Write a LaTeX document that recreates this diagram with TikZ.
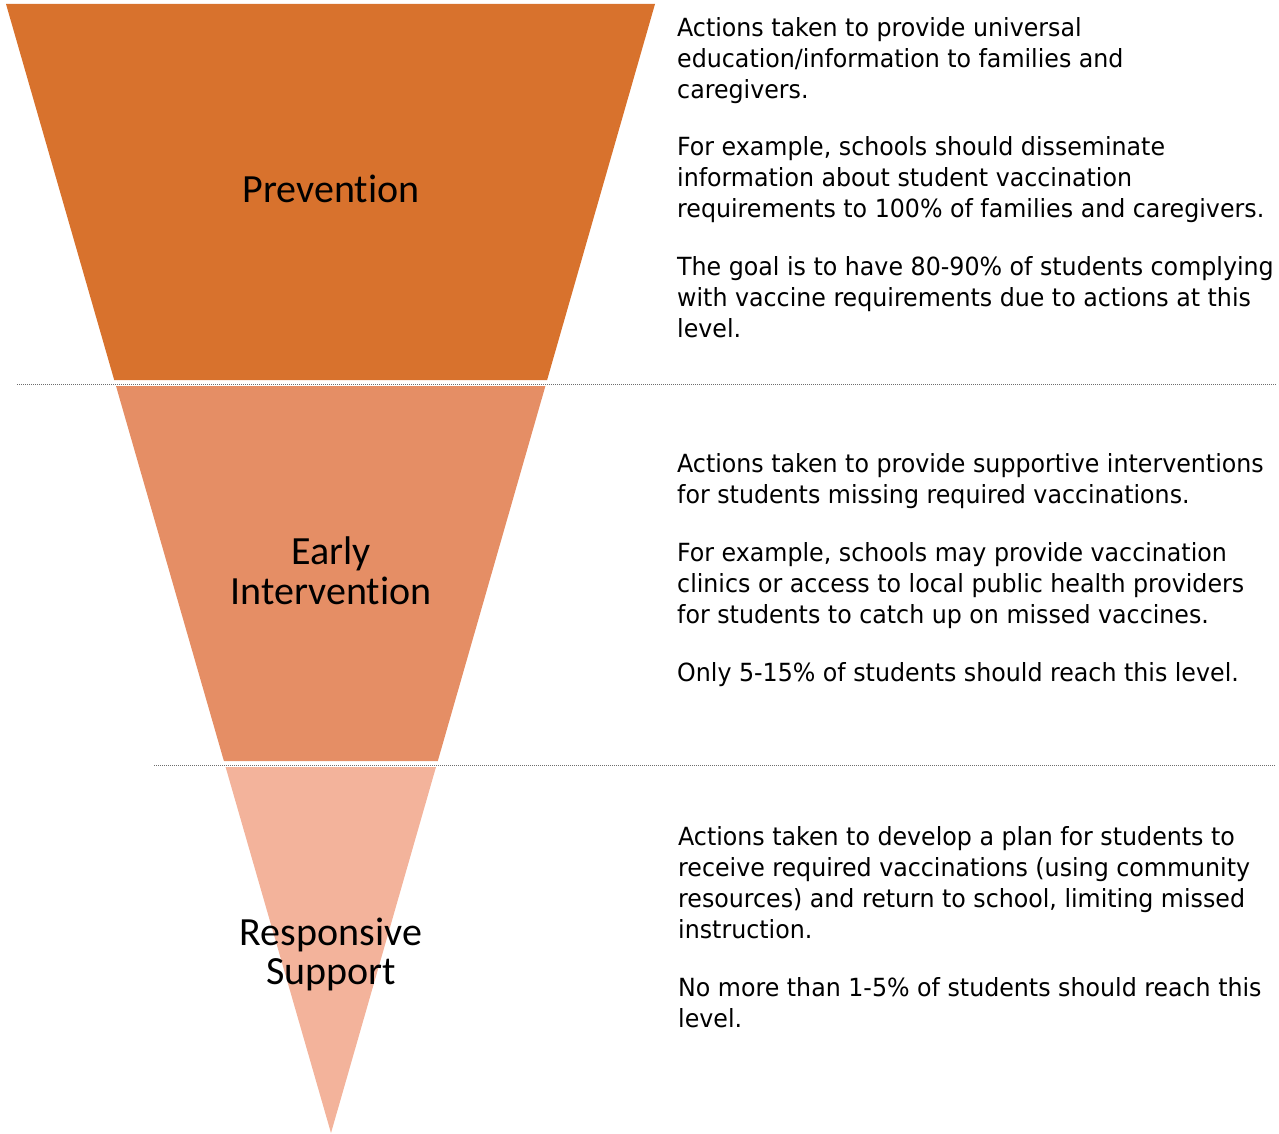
\documentclass[tikz,border=0pt]{standalone}
\usepackage{fontspec}
\newfontfamily\bodyfont[FakeStretch=1.055]{DejaVu Sans Condensed}
\newfontfamily\labelfont[Ligatures={NoCommon}]{Carlito}
\definecolor{bandA}{RGB}{216,114,45}
\definecolor{bandB}{RGB}{229,142,101}
\definecolor{bandC}{RGB}{243,179,155}
\definecolor{sepgray}{RGB}{110,110,110}
\begin{document}
\begin{tikzpicture}[x=1pt,y=-1pt,
  band/.style={draw=none},
  lvl/.style={inner sep=0pt,align=center,font=\labelfont\fontsize{40}{39}\selectfont},
  para/.style={inner sep=0pt,anchor=north west,align=left,font=\bodyfont\fontsize{25}{31}\selectfont},
  sep/.style={sepgray,line width=1pt,dash pattern=on 1pt off 1pt}]
\useasboundingbox (0,0) rectangle (1279,1134);
% bands
\fill[bandA] (6,4) -- (655,4) -- (547.1,380) -- (114.2,380) -- cycle;
\fill[bandB] (116,386) -- (545.4,386) -- (437.8,761) -- (223.9,761) -- cycle;
\fill[bandC] (225.6,767) -- (436,767) -- (331,1133) -- cycle;
% separators
\coordinate (s1a) at (17,384.5);
\coordinate (s1b) at (1276,384.5);
\coordinate (s2a) at (154,765.5);
\coordinate (s2b) at (1276,765.5);
\draw[sep] (s1a) -- (s1b);
\draw[sep] (s2a) -- (s2b);
% level labels
\node[lvl,anchor=base] (prev) at (331,202.3) {Prevention};
\node[lvl,anchor=north] (early) at (331,536.7) {\strut Early\\Intervention};
\node[lvl,anchor=north] (resp) at (331,917.7) {\strut Responsive\\Support};
% descriptions
\node[para] (p1a) at (677,15) {\strut Actions taken to provide universal\\education/information to families and\\caregivers.};
\node[para] (p1b) at (677,134) {\strut For example, schools should disseminate\\information about student vaccination\\requirements to 100\% of families and caregivers.};
\node[para] (p1c) at (677,254) {\strut The goal is to have 80-90\% of students complying\\with vaccine requirements due to actions at this\\level.};
\node[para] (p2a) at (677,451) {\strut Actions taken to provide supportive interventions\\for students missing required vaccinations.};
\node[para] (p2b) at (677,540) {\strut For example, schools may provide vaccination\\clinics or access to local public health providers\\for students to catch up on missed vaccines.};
\node[para] (p2c) at (677,660) {\strut Only 5-15\% of students should reach this level.};
\node[para] (p3a) at (678,823.3) {\strut Actions taken to develop a plan for students to\\receive required vaccinations (using community\\resources) and return to school, limiting missed\\instruction.};
\node[para] (p3b) at (678,974.3) {\strut No more than 1-5\% of students should reach this\\level.};
\end{tikzpicture}
\end{document}
